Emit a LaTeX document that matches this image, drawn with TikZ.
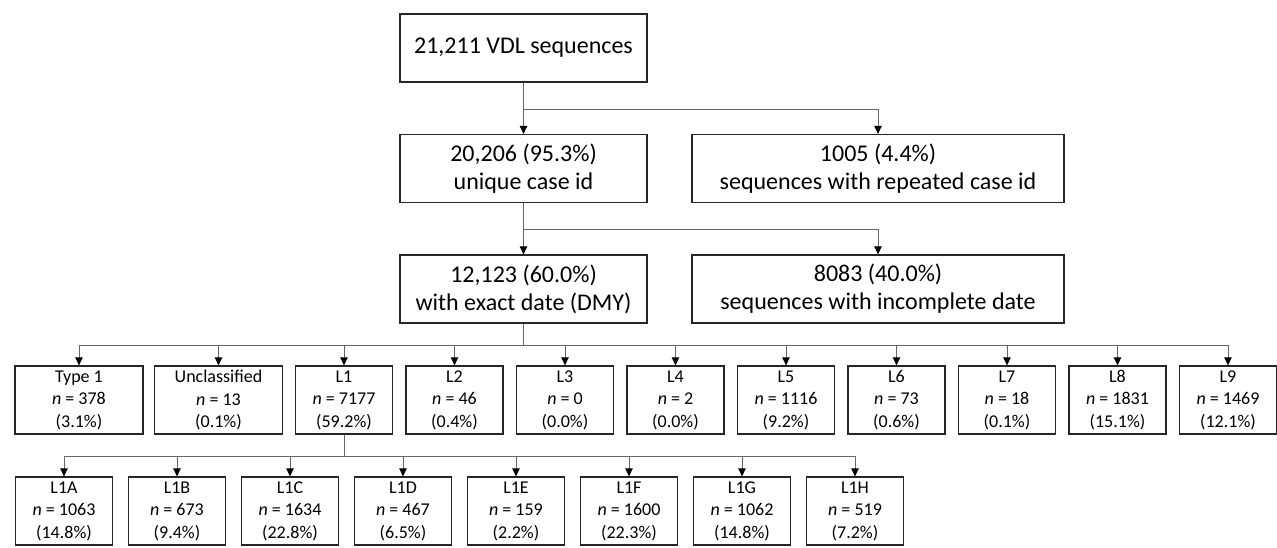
\documentclass[tikz,border=0pt]{standalone}
\usepackage{fontspec}
\setmainfont{Carlito}
\usetikzlibrary{arrows.meta}
\begin{document}
\begin{tikzpicture}[x=1pt,y=-1pt,
  box/.style={draw=black!85, line width=1.3pt, inner sep=0pt, align=center, minimum height=68pt},
  bigbox/.style={box, minimum width=247pt, font=\fontsize{24}{28}\selectfont},
  widebox/.style={box, minimum width=372pt, font=\fontsize{24}{28}\selectfont},
  smallbox/.style={box, minimum width=97pt, font=\fontsize{18}{22.5}\selectfont},
  midbox/.style={smallbox, minimum width=128pt},
  conn/.style={draw=black!60, line width=1pt, -{Triangle[length=8pt,width=7.5pt,color=black]}},
  link/.style={draw=black!60, line width=1pt}]
\useasboundingbox (0,0) rectangle (1277,547);

% top levels
\node[bigbox]  (all)   at (523.5,48)   {21,211 VDL sequences};
\node[bigbox]  (uniq)  at (523.5,168.5) {20,206 (95.3\%)\\unique case id};
\node[widebox] (rep)   at (878,168.5)  {1005 (4.4\%)\\sequences with repeated case id};
\node[bigbox]  (exact) at (523.5,289)  {12,123 (60.0\%)\\with exact date (DMY)};
\node[widebox] (incmp) at (878,289)    {8083 (40.0\%)\\sequences with incomplete date};

\coordinate (j1) at (523.5,109);
\coordinate (j2) at (523.5,229);
\coordinate (j3) at (523.5,345);

\draw[conn] (all.south) -- (uniq.north);
\draw[conn] (j1) -| (rep.north);
\draw[conn] (uniq.south) -- (exact.north);
\draw[conn] (j2) -| (incmp.north);
\draw[link] (exact.south) -- (j3);

% lineage row
\node[midbox]   (t1) at (79,400)    {Type 1\\\textit{n} = 378\\(3.1\%)};
\node[midbox]   (un) at (218.5,400) {Unclassified\\\textit{n} = 13\\(0.1\%)};
\node[smallbox] (l1) at (344,400)   {L1\\\textit{n} = 7177\\(59.2\%)};
\node[smallbox] (l2) at (454.5,400) {L2\\\textit{n} = 46\\(0.4\%)};
\node[smallbox] (l3) at (565,400)   {L3\\\textit{n} = 0\\(0.0\%)};
\node[smallbox] (l4) at (675.5,400) {L4\\\textit{n} = 2\\(0.0\%)};
\node[smallbox] (l5) at (786,400)   {L5\\\textit{n} = 1116\\(9.2\%)};
\node[smallbox] (l6) at (896.5,400) {L6\\\textit{n} = 73\\(0.6\%)};
\node[smallbox] (l7) at (1007,400)  {L7\\\textit{n} = 18\\(0.1\%)};
\node[smallbox] (l8) at (1117.5,400){L8\\\textit{n} = 1831\\(15.1\%)};
\node[smallbox] (l9) at (1228,400)  {L9\\\textit{n} = 1469\\(12.1\%)};

\foreach \b in {t1,un,l1,l2,l3,l4,l5,l6,l7,l8,l9}
  \draw[conn] (j3) -| (\b.north);

% L1 sub-lineages
\coordinate (j4) at (344,456);
\draw[link] (l1.south) -- (j4);

\node[smallbox] (a) at (64,511)  {L1A\\\textit{n} = 1063\\(14.8\%)};
\node[smallbox] (b) at (177,511) {L1B\\\textit{n} = 673\\(9.4\%)};
\node[smallbox] (c) at (290,511) {L1C\\\textit{n} = 1634\\(22.8\%)};
\node[smallbox] (d) at (403,511) {L1D\\\textit{n} = 467\\(6.5\%)};
\node[smallbox] (e) at (516,511) {L1E\\\textit{n} = 159\\(2.2\%)};
\node[smallbox] (f) at (629,511) {L1F\\\textit{n} = 1600\\(22.3\%)};
\node[smallbox] (g) at (742,511) {L1G\\\textit{n} = 1062\\(14.8\%)};
\node[smallbox] (h) at (855,511) {L1H\\\textit{n} = 519\\(7.2\%)};

\foreach \b in {a,b,c,d,e,f,g,h}
  \draw[conn] (j4) -| (\b.north);
\end{tikzpicture}
\end{document}
